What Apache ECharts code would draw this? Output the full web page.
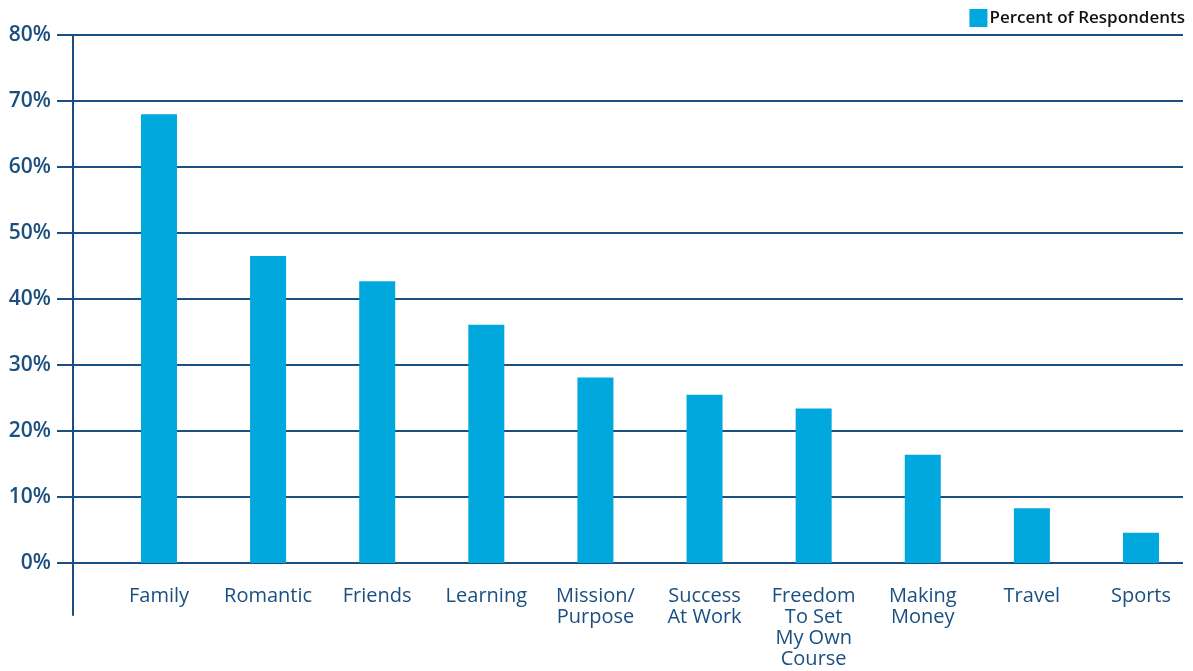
<!DOCTYPE html>
<html>
<head>
<meta charset="utf-8">
<script src="https://cdn.jsdelivr.net/npm/echarts@6/dist/echarts.min.js"></script>
<style>
  html, body { margin: 0; padding: 0; background: #ffffff; }
  #chart { width: 1193px; height: 671px; }
</style>
</head>
<body>
<div id="chart"></div>
<script>
// Categories (multi-line names use \n)
const categories = [
  'Family', 'Romantic', 'Friends', 'Learning', 'Mission/\nPurpose',
  'Success\nAt Work', 'Freedom\nTo Set\nMy Own\nCourse', 'Making\nMoney', 'Travel', 'Sports'
];
// Percent of respondents per category
const percentValues = [68.0, 46.5, 42.7, 36.1, 28.1, 25.5, 23.4, 16.4, 8.3, 4.6];
// Y axis tick values
const yTicks = [0, 10, 20, 30, 40, 50, 60, 70, 80];
const seriesName = 'Percent of Respondents';

const NAVY = '#1b4f80';
const BLUE = '#00a8de';
const FONT = '"Open Sans", "Noto Sans", sans-serif';

const chart = echarts.init(document.getElementById('chart'), null, { renderer: 'canvas' });

const catIndex = categories.map((_, i) => i);

chart.setOption({
  animation: false,
  backgroundColor: '#ffffff',
  legend: {
    data: [seriesName],
    right: 8,
    top: 9,
    padding: 0,
    icon: 'rect',
    itemWidth: 18,
    itemHeight: 18,
    itemGap: 5,
    textStyle: { color: '#111111', fontFamily: FONT, fontSize: 17, fontWeight: 600, padding: [0, 0, 0, -3] }
  },
  grid: [
    { left: 73, right: 10, top: 35, bottom: 108 },
    { left: 73, right: 10, top: 35, bottom: 56 }
  ],
  xAxis: [
    {
      gridIndex: 0,
      type: 'value',
      min: -0.788,
      max: 9.385,
      axisLine: { show: false },
      axisTick: { show: false },
      splitLine: { show: false },
      axisLabel: {
        customValues: catIndex,
        formatter: v => categories[Math.round(v)],
        color: NAVY,
        fontFamily: FONT,
        fontSize: 20,
        lineHeight: 21,
        margin: 23,
        align: 'center',
        verticalAlign: 'top'
      }
    },
    { gridIndex: 1, type: 'value', show: false, min: 0, max: 1 }
  ],
  yAxis: [
    {
      gridIndex: 0,
      type: 'value',
      min: yTicks[0],
      max: yTicks[yTicks.length - 1],
      interval: 10,
      axisLine: { show: true, onZero: false, lineStyle: { color: NAVY, width: 2 } },
      axisTick: { show: true, length: 16, lineStyle: { color: NAVY, width: 2 } },
      splitLine: { show: true, lineStyle: { color: NAVY, width: 2 } },
      axisLabel: {
        formatter: v => v + '%',
        color: NAVY,
        fontFamily: FONT,
        fontSize: 21,
        fontWeight: 600,
        margin: 22,
        padding: [4, 0, 0, 0]
      }
    },
    {
      gridIndex: 1,
      type: 'value',
      min: 0,
      max: 1,
      axisLine: { show: true, onZero: false, lineStyle: { color: NAVY, width: 2 } },
      axisTick: { show: false },
      axisLabel: { show: false },
      splitLine: { show: false }
    }
  ],
  series: [
    {
      name: seriesName,
      type: 'bar',
      xAxisIndex: 0,
      yAxisIndex: 0,
      barWidth: 36,
      itemStyle: { color: BLUE },
      data: percentValues.map((v, i) => [catIndex[i], v])
    }
  ]
});
</script>
</body>
</html>
